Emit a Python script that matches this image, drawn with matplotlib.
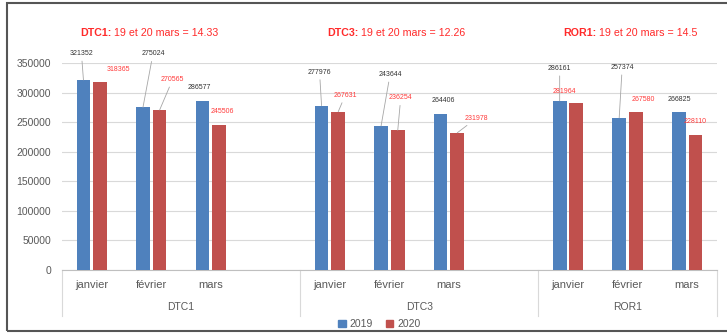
import matplotlib
matplotlib.use("Agg")
import matplotlib.pyplot as plt
from matplotlib.patches import Patch, Rectangle
from matplotlib.transforms import blended_transform_factory

# Data
groups = ["DTC1", "DTC3", "ROR1"]
months = ["janvier", "février", "mars"]
values_2019 = [321352, 275024, 286577, 277976, 243644, 264406, 286161, 257374, 266825]
values_2020 = [318365, 270565, 245506, 267631, 236254, 231978, 281964, 267580, 228110]
title_names = ["DTC1:", "DTC3:", "ROR1:"]
title_texts = ["19 et 20 mars = 14.33", "19 et 20 mars = 12.26", "19 et 20 mars = 14.5"]

# Label offsets in pixels (dx, dy) from bar top, and whether a leader line is drawn
offsets_2019 = [(-2, 23, True), (10, 50, True), (-3, 10, False),
                (-2, 30, True), (9, 48, True), (3, 10, False),
                (0, 29, True), (3, 47, True), (1, 9, False)]
offsets_2020 = [(18, 9, False), (13, 27, True), (3, 10, False),
                (7, 13, True), (3, 29, True), (19, 11, True),
                (-12, 8, False), (7, 9, False), (0, 10, False)]

BLUE = "#4F81BD"
RED = "#C0504D"
TITLE_RED = "#FF2A2A"
GRAY = "#595959"

plt.rcParams["font.family"] = ["Liberation Sans Narrow", "Liberation Sans", "DejaVu Sans"]

fig = plt.figure(figsize=(7.27, 3.34), dpi=100)
ax = fig.add_axes([0.0853, 0.1916, 0.9007, 0.6198])

# slot positions: 4 slots per group (the 4th stays empty), last group has 3
slots = [g * 4 + m for g in range(len(groups)) for m in range(len(months))]
width = 0.23
shift = 0.14
x19 = [s - shift for s in slots]
x20 = [s + shift for s in slots]
ax.bar(x19, values_2019, width=width, color=BLUE, zorder=3)
ax.bar(x20, values_2020, width=width, color=RED, zorder=3)

ax.set_xlim(-0.5, 10.5)
ax.set_ylim(0, 350000)
ax.set_yticks(range(0, 350001, 50000))
ax.tick_params(axis="y", length=0, labelsize=7.5, labelcolor=GRAY, pad=8)
ax.set_xticks([])
ax.grid(axis="y", color="#D9D9D9", linewidth=0.8, zorder=0)
for side in ["top", "right", "left"]:
    ax.spines[side].set_visible(False)
ax.spines["bottom"].set_color("#BFBFBF")
ax.spines["bottom"].set_linewidth(0.8)

# data labels
def add_labels(xs, vals, offs, color):
    for x, v, (dx, dy, lead) in zip(xs, vals, offs):
        arrow = dict(arrowstyle="-", color="#A6A6A6", lw=0.6, shrinkA=1, shrinkB=0) if lead else None
        ax.annotate(str(v), xy=(x, v), xytext=(dx, dy), textcoords="offset pixels",
                    ha="center", va="bottom", fontsize=5, color=color,
                    arrowprops=arrow, annotation_clip=False, zorder=4)

add_labels(x19, values_2019, offsets_2019, "#333333")
add_labels(x20, values_2020, offsets_2020, "#FF3B3B")

# multi-level category axis
trans = blended_transform_factory(ax.transData, ax.transAxes)
for s, m in zip(slots, months * len(groups)):
    ax.text(s, -0.072, m, transform=trans, ha="center", va="center", fontsize=8, color=GRAY)
for g, name in enumerate(groups):
    n = 3
    center = g * 4 + (n if g < len(groups) - 1 else n - 1) / 2.0
    ax.text(center, -0.179, name, transform=trans, ha="center", va="center", fontsize=7.5, color=GRAY)
for xs in [-0.5, 3.5, 7.5, 10.5]:
    ax.plot([xs, xs], [0, -0.22], transform=trans, color="#D9D9D9", lw=0.8, clip_on=False)

# group titles: bold name followed by regular text
title_x = [-0.2, 3.95, 7.92]
for x, name, txt in zip(title_x, title_names, title_texts):
    t = ax.text(x, 1.13, name, transform=trans, ha="left", va="baseline",
                fontsize=7.7, fontweight="bold", color=TITLE_RED)
    ax.annotate(" " + txt, xy=(1, 0), xycoords=t, ha="left", va="bottom",
                fontsize=7.7, color=TITLE_RED)

# legend
handles = [Patch(color=BLUE, label="2019"), Patch(color=RED, label="2020")]
fig.legend(handles=handles, loc="center", bbox_to_anchor=(0.522, 0.03), ncol=2,
           frameon=False, fontsize=7.5, handlelength=0.7, handleheight=0.7,
           handletextpad=0.4, columnspacing=1.2, labelcolor=GRAY)

# outer frame
fig.patches.append(Rectangle((7 / 727, 3 / 334), 1.2, 328 / 334, transform=fig.transFigure,
                             fill=False, edgecolor="#555555", linewidth=1.5))

fig.savefig("out.png", dpi=100)
